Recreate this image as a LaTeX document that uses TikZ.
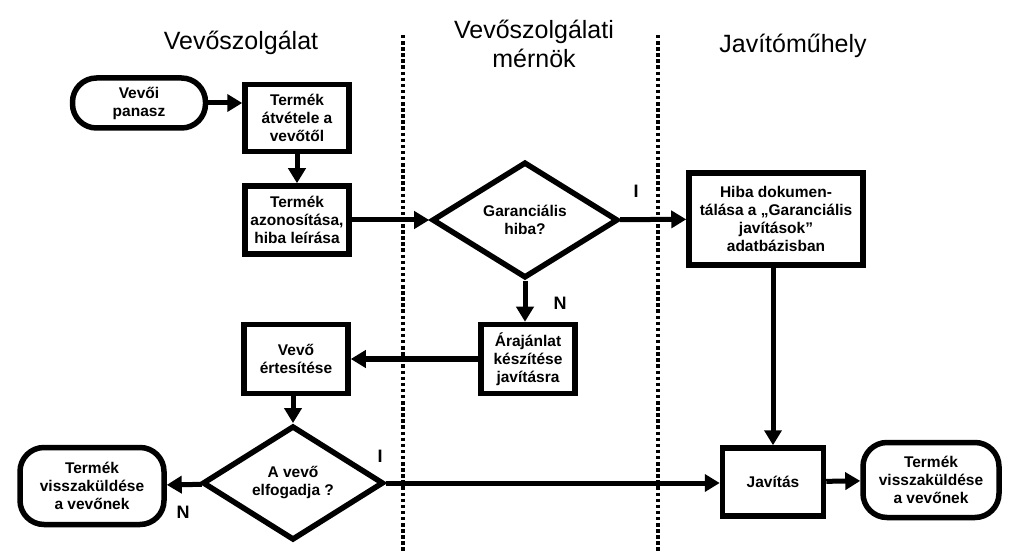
\documentclass[tikz,border=0pt]{standalone}
\usepackage{fontspec}
\setmainfont{Liberation Sans}
\usetikzlibrary{arrows.meta,positioning,shapes.geometric}
\tikzset{
  box/.style={rectangle,draw,line width=5.5pt,align=center,inner sep=2pt,
    font=\fontsize{15.5}{18}\selectfont\bfseries},
  proc/.style={box},
  term/.style={box,rounded corners=24pt},
  decision/.style={diamond,draw,line width=5.5pt,align=center,inner sep=0pt,
    font=\fontsize{15.5}{18}\selectfont\bfseries},
  flow/.style={line width=5pt,-{Triangle[length=15pt,width=17pt]}},
  lane/.style={line width=4.5pt,dash pattern=on 3.5pt off 2.6pt},
  head/.style={align=center,font=\fontsize{25}{29}\selectfont},
  answer/.style={font=\fontsize{18}{20}\selectfont\bfseries}
}
\begin{document}
\begin{tikzpicture}[x=1pt,y=-1pt]
    \useasboundingbox (0,0) rectangle (1013,556);
    % Lanes
    \draw[lane] (403,35) -- (403,552);
    \draw[lane] (658,35) -- (658,552);
    \node[head] (hVsz) at (241,43) {Vevőszolgálat};
    \node[head] (hMer) at (534,44) {Vevőszolgálati\\mérnök};
    \node[head] (hJav) at (793,46) {Javítóműhely};
    % Nodes
    \node[term,minimum width=133pt,minimum height=50pt] (panasz) at (139,103) {Vevői\\panasz};
    \node[proc,minimum width=104pt,minimum height=67pt] (atvetel) at (297,118) {Termék\\átvétele a\\vevőtől};
    \node[proc,minimum width=104pt,minimum height=68pt] (azon) at (297,220) {Termék\\azonosítása,\\hiba leírása};
    \node[decision,minimum width=186pt,minimum height=116pt] (gar) at (525,220) {Garanciális\\hiba?};
    \node[proc,minimum width=174pt,minimum height=92pt] (hiba) at (776,219) {Hiba dokumen-\\tálása a „Garanciális\\javítások”\\adatbázisban};
    \node[proc,minimum width=94pt,minimum height=69pt] (araj) at (528,359) {Árajánlat\\készítése\\javításra};
    \node[proc,minimum width=104pt,minimum height=69pt] (ert) at (296,359) {Vevő\\értesítése};
    \node[decision,minimum width=181pt,minimum height=111pt] (elf) at (293,483) {A vevő\\elfogadja ?};
    \node[term,minimum width=144pt,minimum height=77pt] (vissza1) at (92,486) {Termék\\visszaküldése\\a vevőnek};
    \node[proc,minimum width=101pt,minimum height=68pt] (javit) at (773,482) {Javítás};
    \node[term,minimum width=136pt,minimum height=75pt] (vissza2) at (931,480) {Termék\\visszaküldése\\a vevőnek};
    % Connections
    \draw[flow] (panasz) -- (atvetel.west |- panasz);
    \draw[flow] (atvetel) -- (azon);
    \draw[flow] (azon) -- (gar);
    \draw[flow] (gar) -- (hiba);
    \draw[flow] (gar) -- (araj.north -| gar);
    \draw[flow] (araj) -- (ert);
    \draw[flow] (ert.south -| elf) -- (elf);
    \draw[flow] (elf) -- (vissza1);
    \draw[flow] (elf) -- (javit.west |- elf);
    \draw[flow] (hiba.south -| javit) -- (javit);
    \draw[flow] (javit) -- (vissza2);
    % Labels
    \node[answer] (iGar) at (636,191) {I};
    \node[answer] (nGar) at (560,303) {N};
    \node[answer] (iElf) at (380,456) {I};
    \node[answer] (nElf) at (183,512) {N};
  \end{tikzpicture}
\end{document}
